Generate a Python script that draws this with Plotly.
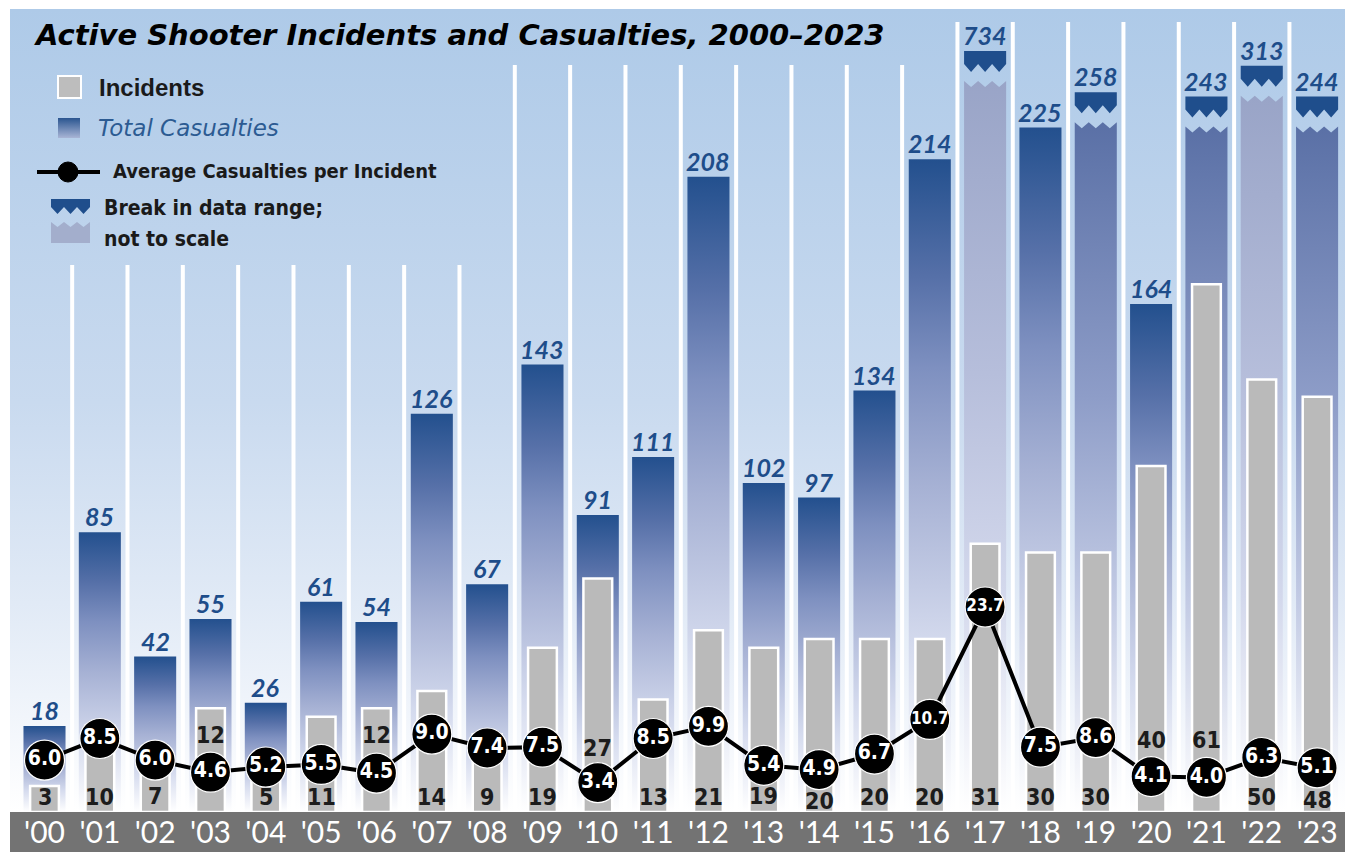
import plotly.graph_objects as go

# ---------------- data ----------------
years = ["'00", "'01", "'02", "'03", "'04", "'05", "'06", "'07", "'08", "'09", "'10", "'11",
         "'12", "'13", "'14", "'15", "'16", "'17", "'18", "'19", "'20", "'21", "'22", "'23"]
incidents = [3, 10, 7, 12, 5, 11, 12, 14, 9, 19, 27, 13, 21, 19, 20, 20, 20, 31, 30, 30, 40, 61, 50, 48]
casualties = [18, 85, 42, 55, 26, 61, 54, 126, 67, 143, 91, 111, 208, 102, 97, 134, 214, 734, 225,
              258, 164, 243, 313, 244]
avg_per_incident = [6.0, 8.5, 6.0, 4.6, 5.2, 5.5, 4.5, 9.0, 7.4, 7.5, 3.4, 8.5, 9.9, 5.4, 4.9, 6.7,
                    10.7, 23.7, 7.5, 8.6, 4.1, 4.0, 6.3, 5.1]
# bars with a break in the data range: the (not to scale) height they are drawn at
break_years = ["'17", "'19", "'21", "'22", "'23"]
break_shown_height = [251.5, 237.2, 235.7, 246.4, 235.7]

# ---------------- styles / geometry ----------------
break_tone = {"'17": "light", "'19": "medium", "'21": "medium", "'22": "light", "'23": "medium"}
incident_label_px = [797, 797, 796, 735, 797, 797, 735, 797, 797, 797, 748, 797,
                     797, 796, 801, 797, 797, 797, 797, 797, 740, 740, 797, 800]

FIG_W, FIG_H = 1345, 852
PLOT_L, PLOT_R, PLOT_T, PLOT_B = 10, 1345, 9, 812   # page pixels
X0_PX, DX_PX = 44.5, 55.33
CAS_BASE_PX, CAS_PX_PER = 778.0, 2.891
INC_BASE_PX, INC_PX_PER = 812.0, 8.65

def xd(px):
    return (px - X0_PX) / DX_PX

def yc(py):
    return (CAS_BASE_PX - py) / CAS_PX_PER

def xp(px):
    return (px - PLOT_L) / (PLOT_R - PLOT_L)

def yp(py):
    return (PLOT_B - py) / (PLOT_B - PLOT_T)

X_RANGE = [xd(PLOT_L), xd(PLOT_R)]
Y_RANGE = [yc(PLOT_B), yc(PLOT_T)]
Y2_RANGE = [0, (INC_BASE_PX - PLOT_T) / INC_PX_PER]
YMIN = Y_RANGE[0]

GEO = "Lato, 'DejaVu Sans', sans-serif"
WIDE = "'DejaVu Sans', Verdana, sans-serif"
NARROW = "'DejaVu Sans Condensed', 'Liberation Sans Narrow', 'Arial Narrow', 'Liberation Sans', Arial, sans-serif"
ARIAL = "'Liberation Sans', Arial, sans-serif"
DARK_BLUE = "#1f4e8c"
LABEL_BLUE = "#1e4d8a"

BLUE_CS = [[0, "#ffffff"], [0.25, "#d5dbee"], [0.5, "#a6b1d4"], [0.68, "#7e90c0"],
           [0.82, "#5670a8"], [1, "#23508e"]]
TONE_CS = {
    "medium": [[0, "#ffffff"], [0.3, "#c4cce5"], [0.6, "#8e9dc8"], [1, "#5a70a6"]],
    "light": [[0, "#ffffff"], [0.3, "#d3d8ec"], [0.6, "#b6bedb"], [1, "#99a4c7"]],
}
BG_CS = [[0, "#ffffff"], [0.12, "#f1f5fb"], [0.26, "#e1eaf6"], [0.51, "#c9daef"], [1, "#aecae8"]]

n = len(years)
idx = list(range(n))
fig = go.Figure()

# background gradient
fig.add_trace(go.Scatter(
    x=[X_RANGE[0], X_RANGE[1], X_RANGE[1], X_RANGE[0], X_RANGE[0]],
    y=[Y_RANGE[0], Y_RANGE[0], Y_RANGE[1], Y_RANGE[1], Y_RANGE[0]],
    mode="lines", line=dict(width=0), fill="toself",
    fillgradient=dict(type="vertical", colorscale=BG_CS),
    hoverinfo="skip", showlegend=False))

# white separators between years
gx, gy = [], []
for k in range(n - 1):
    xb = k + 0.5
    px_mid = X0_PX + DX_PX * xb
    start = 265 if px_mid < 470 else (65 if px_mid < 910 else 22)
    gx += [xb, xb, None]
    gy += [yc(start), YMIN, None]
fig.add_trace(go.Scatter(x=gx, y=gy, mode="lines", line=dict(color="white", width=4),
                         hoverinfo="skip", showlegend=False))

# casualties bars (gradient)
HALF = 0.38
label_top = []
fr = [0, 1 / 6, 2 / 6, 3 / 6, 4 / 6, 5 / 6, 1]
for i in idx:
    l, r = i - HALF, i + HALF
    if years[i] in break_years:
        shown = break_shown_height[break_years.index(years[i])]
        T = CAS_BASE_PX - shown * CAS_PX_PER
        # lower part with zigzag top
        lx = [l, r] + [r - f * (r - l) for f in fr] + [l]
        ly = [YMIN, YMIN] + [yc(T + (30 if j % 2 == 0 else 36)) for j in range(7)] + [YMIN]
        fig.add_trace(go.Scatter(x=lx, y=ly, mode="lines", line=dict(width=0), fill="toself",
                                 fillgradient=dict(type="vertical",
                                                   colorscale=TONE_CS[break_tone[years[i]]]),
                                 hoverinfo="skip", showlegend=False))
        # cap with zigzag bottom
        cx = [l, r] + [r - f * (r - l) for f in fr] + [l]
        cy = [yc(T), yc(T)] + [yc(T + (13 if j % 2 == 0 else 21)) for j in range(7)] + [yc(T)]
        fig.add_trace(go.Scatter(x=cx, y=cy, mode="lines", line=dict(width=0), fill="toself",
                                 fillcolor=DARK_BLUE, hoverinfo="skip", showlegend=False))
        label_top.append(shown)
    else:
        v = casualties[i]
        fig.add_trace(go.Scatter(x=[l, r, r, l, l], y=[YMIN, YMIN, v, v, YMIN], mode="lines",
                                 line=dict(width=0), fill="toself",
                                 fillgradient=dict(type="vertical", colorscale=BLUE_CS),
                                 hoverinfo="skip", showlegend=False))
        label_top.append(v)

# legend gradient square (casualties)
fig.add_trace(go.Scatter(x=[xd(58), xd(80), xd(80), xd(58), xd(58)],
                         y=[yc(138), yc(138), yc(118), yc(118), yc(138)],
                         mode="lines", line=dict(width=0), fill="toself",
                         fillgradient=dict(type="vertical",
                                           colorscale=[[0, "#a9b5d6"], [1, "#2a5590"]]),
                         hoverinfo="skip", showlegend=False))

# incidents bars
fig.add_trace(go.Bar(x=idx, y=incidents, yaxis="y2", width=0.52,
                     marker=dict(color="#bababa", line=dict(color="white", width=2.5)),
                     hoverinfo="skip", showlegend=False))

# average casualties per incident line
avg_text = [f"{v:.1f}" for v in avg_per_incident]
fig.add_trace(go.Scatter(
    x=idx, y=avg_per_incident, yaxis="y2", mode="lines+markers+text",
    line=dict(color="black", width=4),
    marker=dict(color="black", size=40, line=dict(color="white", width=1.2)),
    text=avg_text, textposition="middle center",
    textfont=dict(family=NARROW, size=[21 if len(t) <= 3 else 17 for t in avg_text],
                  color="white", weight="bold"),
    hoverinfo="skip", showlegend=False, cliponaxis=False))

annotations = []
# casualty value labels
for i in idx:
    annotations.append(dict(x=i, y=label_top[i], xref="x", yref="y", yanchor="bottom",
                            text=str(casualties[i]), showarrow=False, yshift=-1,
                            font=dict(family=GEO, size=25, color=LABEL_BLUE,
                                      weight="bold", style="italic")))
# incident labels
for i in idx:
    annotations.append(dict(x=i, y=yp(incident_label_px[i]), xref="x", yref="paper",
                            yanchor="middle", text=str(incidents[i]), showarrow=False,
                            font=dict(family=NARROW, size=23, color="#1c1c1c", weight="bold")))

# title
annotations.append(dict(x=xp(32), y=yp(35), xref="paper", yref="paper", xanchor="left",
                        yanchor="middle", showarrow=False,
                        text="Active Shooter Incidents and Casualties, 2000–2023",
                        font=dict(family=WIDE, size=29, color="black", weight="bold",
                                  style="italic")))
# legend texts
legend_txt = [
    dict(x=xp(97), y=yp(87), text="Incidents",
         font=dict(family=ARIAL, size=24, color="#1a1a1a", weight="bold")),
    dict(x=xp(96), y=yp(128), text="Total Casualties",
         font=dict(family=WIDE, size=23, color="#2c5b92", style="italic")),
    dict(x=xp(111), y=yp(171), text="Average Casualties per Incident",
         font=dict(family=NARROW, size=20, color="#1a1a1a", weight="bold")),
    dict(x=xp(102), y=yp(208), text="Break in data range;",
         font=dict(family=NARROW, size=21, color="#1a1a1a", weight="bold")),
    dict(x=xp(102), y=yp(239), text="not to scale",
         font=dict(family=NARROW, size=21, color="#1a1a1a", weight="bold")),
]
for a in legend_txt:
    a.update(xref="paper", yref="paper", xanchor="left", yanchor="middle", showarrow=False)
annotations += legend_txt


def path_px(points):
    return "M " + " L ".join(f"{xp(x):.5f},{yp(y):.5f}" for x, y in points) + " Z"


shapes = [
    # x-axis band
    dict(type="rect", xref="paper", yref="paper", x0=0, x1=1, y0=-40 / (PLOT_B - PLOT_T), y1=0,
         fillcolor="#737373", line=dict(width=0), layer="below"),
    # legend: incidents square
    dict(type="rect", xref="paper", yref="paper", x0=xp(58), x1=xp(81), y0=yp(98), y1=yp(76),
         fillcolor="#bdbdbd", line=dict(color="white", width=2)),
    # legend: line with dot
    dict(type="line", xref="paper", yref="paper", x0=xp(37), x1=xp(100), y0=yp(172), y1=yp(172),
         line=dict(color="black", width=4)),
    dict(type="circle", xref="paper", yref="paper", x0=xp(58), x1=xp(78), y0=yp(182), y1=yp(162),
         fillcolor="black", line=dict(color="black", width=1)),
]
# legend: break icon
bl, br = 51, 90
w = br - bl
cap = [(bl, 199), (br, 199)] + [(br - f * w, 207 if j % 2 == 0 else 214) for j, f in enumerate(fr)]
low = [(bl, 243), (br, 243)] + [(br - f * w, 222 if j % 2 == 0 else 227) for j, f in enumerate(fr)]
shapes.append(dict(type="path", xref="paper", yref="paper", path=path_px(cap),
                   fillcolor=DARK_BLUE, line=dict(width=0)))
shapes.append(dict(type="path", xref="paper", yref="paper", path=path_px(low),
                   fillcolor="#a3aecc", line=dict(width=0)))

fig.update_layout(
    width=FIG_W, height=FIG_H,
    margin=dict(l=PLOT_L, r=FIG_W - PLOT_R, t=PLOT_T, b=FIG_H - PLOT_B, pad=0),
    paper_bgcolor="white", plot_bgcolor="white",
    xaxis=dict(range=X_RANGE, tickmode="array", tickvals=idx, ticktext=years,
               tickfont=dict(family=GEO, size=30, color="white"),
               showgrid=False, zeroline=False, showline=False, ticks="", fixedrange=True),
    yaxis=dict(range=Y_RANGE, visible=False, fixedrange=True),
    yaxis2=dict(range=Y2_RANGE, overlaying="y", visible=False, fixedrange=True),
    annotations=annotations, shapes=shapes,
    showlegend=False, barmode="overlay",
)

fig.write_html("out.html", config={"displayModeBar": False},
               post_script="document.body.style.margin='0';document.body.style.overflow='hidden';")
